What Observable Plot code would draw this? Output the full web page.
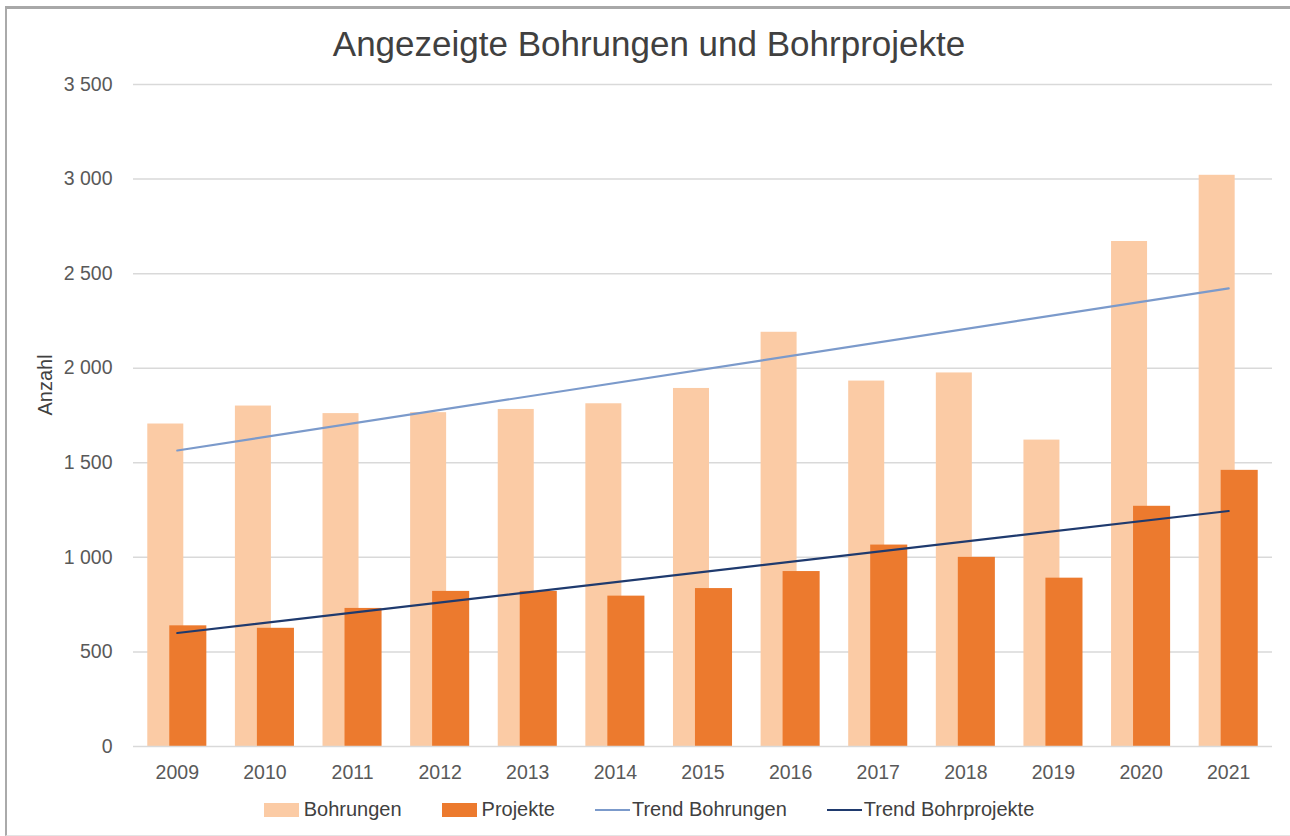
<!DOCTYPE html>
<html>
<head>
<meta charset="utf-8">
<script src="https://cdn.jsdelivr.net/npm/d3@7"></script>
<script src="https://cdn.jsdelivr.net/npm/@observablehq/plot@0.6"></script>
<style>
  html, body { margin: 0; padding: 0; background: #fff; overflow: hidden; }
  #wrap { position: relative; width: 1290px; height: 836px; overflow: hidden; font-family: "Liberation Sans", Arial, sans-serif; }
  #frame { position: absolute; left: 5px; top: 6px; width: 1283px; height: 826px; border-left: 2px solid #aaa; border-top: 3px solid #a8a8a8; border-bottom: 1px solid #e4e4e4; }
  #title { position: absolute; left: 0; width: 1298px; top: 24px; text-align: center; font-size: 35px; color: #404040; white-space: nowrap; }
  #chart { position: absolute; left: 0; top: 0; }
  #legend { position: absolute; left: 0; top: 798px; width: 1298px; display: flex; justify-content: center; font-size: 20px; color: #404040; white-space: nowrap; }
  .item { display: flex; align-items: center; margin: 0 20px; }
  .sw { width: 35px; height: 14px; margin-right: 5px; }
  .ln { width: 35px; height: 2px; margin-right: 2px; }
</style>
</head>
<body>
<div id="wrap">
  <div id="frame"></div>
  <div id="chart"></div>
  <div id="title">Angezeigte Bohrungen und Bohrprojekte</div>
  <div id="legend"></div>
</div>
<script>
const years = [2009, 2010, 2011, 2012, 2013, 2014, 2015, 2016, 2017, 2018, 2019, 2020, 2021];
const bohrungen = [1705, 1800, 1760, 1765, 1782, 1812, 1893, 2190, 1932, 1975, 1620, 2670, 3020];
const projekte = [638, 625, 730, 820, 820, 795, 835, 925, 1065, 1000, 890, 1270, 1460];
const trendYears = [2009, 2021];
const trendBohrungen = [1565, 2422];
const trendProjekte = [600, 1245];
const yTicks = [0, 500, 1000, 1500, 2000, 2500, 3000, 3500];

const colLight = "#FBCBA5";
const colDark = "#EC7A2E";
const colTrendB = "#7B9ACB";
const colTrendP = "#1F3A6E";

const barsB = years.map((y, i) => ({year: y, value: bohrungen[i]}));
const barsP = years.map((y, i) => ({year: y, value: projekte[i]}));
const trB = trendYears.map((y, i) => ({year: y, value: trendBohrungen[i]}));
const trP = trendYears.map((y, i) => ({year: y, value: trendProjekte[i]}));

const fmt = d => d3.format(",")(d).replace(/,/g, " ");

const chart = Plot.plot({
  width: 1290,
  height: 790,
  marginLeft: 133,
  marginRight: 18,
  marginTop: 84,
  marginBottom: 44,
  style: {fontFamily: "Liberation Sans, Arial, sans-serif", fontSize: "19.5px", color: "#595959", background: "transparent"},
  x: {type: "linear", domain: [2008.5, 2021.5], ticks: years, tickFormat: d => String(d), tickSize: 0, tickPadding: 19, label: null},
  y: {domain: [0, 3500], ticks: yTicks, tickFormat: fmt, tickSize: 0, tickPadding: 21, label: null},
  marks: [
    Plot.ruleY(yTicks.filter(d => d > 0), {stroke: "#d9d9d9", strokeWidth: 1.5}),
    Plot.rectY(barsB, {x1: d => d.year - 0.337, x2: d => d.year + 0.074, y: "value", fill: colLight}),
    Plot.rectY(barsP, {x1: d => d.year - 0.086, x2: d => d.year + 0.337, y: "value", fill: colDark}),
    Plot.ruleY([0], {stroke: "#d9d9d9", strokeWidth: 1.5}),
    Plot.line(trB, {x: "year", y: "value", stroke: colTrendB, strokeWidth: 2.2}),
    Plot.line(trP, {x: "year", y: "value", stroke: colTrendP, strokeWidth: 2.2}),
    Plot.text(["Anzahl"], {frameAnchor: "left", dx: -88, rotate: -90, fontSize: 20, fill: "#404040"})
  ]
});
document.getElementById("chart").appendChild(chart);

const legendItems = [
  {label: "Bohrungen", color: colLight, type: "sw"},
  {label: "Projekte", color: colDark, type: "sw"},
  {label: "Trend Bohrungen", color: colTrendB, type: "ln"},
  {label: "Trend Bohrprojekte", color: colTrendP, type: "ln"}
];
const lg = document.getElementById("legend");
legendItems.forEach(it => {
  const d = document.createElement("div");
  d.className = "item";
  const s = document.createElement("span");
  s.className = it.type;
  s.style.background = it.color;
  const t = document.createElement("span");
  t.textContent = it.label;
  d.appendChild(s); d.appendChild(t);
  lg.appendChild(d);
});
</script>
</body>
</html>
